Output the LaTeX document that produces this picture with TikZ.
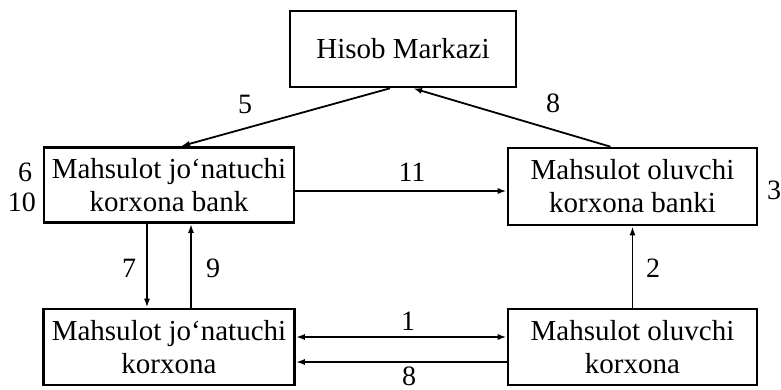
\documentclass[tikz,border=0pt]{standalone}
\usepackage{fontspec}
\setmainfont{Liberation Serif}
\usetikzlibrary{calc,arrows.meta}
\begin{document}
\begin{tikzpicture}[x=1pt,y=-1pt,
  box/.style={draw,line width=2.6pt,align=center,inner sep=0pt,
    font=\fontsize{29}{33}\selectfont},
  arr/.style={line width=1.8pt,-{Latex[length=9pt,width=6pt]}},
  darr/.style={line width=1.8pt,{Latex[length=9pt,width=6pt]}-{Latex[length=9pt,width=6pt]}},
  num/.style={font=\fontsize{28}{30}\selectfont,inner sep=0pt}]
\useasboundingbox (0,0) rectangle (781,390);
\node[box,minimum width=226pt,minimum height=76pt] (hm) at (403,49) {Hisob Markazi};
\node[box,minimum width=250pt,minimum height=75pt] (tl) at (169,185) {Mahsulot jo‘natuchi\\korxona bank};
\node[box,minimum width=249pt,minimum height=77pt] (tr) at (632.5,186.5) {Mahsulot oluvchi\\korxona banki};
\node[box,minimum width=251pt,minimum height=76pt] (bl) at (169,347) {Mahsulot jo‘natuchi\\korxona};
\node[box,minimum width=249pt,minimum height=76pt] (br) at (632.5,347) {Mahsulot oluvchi\\korxona};
% connectors
\draw[arr] ($(hm.south)+(-13,0)$) -- ($(tl.north)+(12,0)$);
\draw[arr] ($(tr.north)+(-22,0)$) -- ($(hm.south)+(10,0)$);
\draw[arr] ($(tl.east)+(0,6)$) -- ($(tr.west)+(0,4.5)$);
\draw[arr] ($(tl.south)+(-22,0)$) -- ($(bl.north)+(-22,0)$);
\draw[arr] ($(bl.north)+(22,0)$) -- ($(tl.south)+(22,0)$);
\draw[arr] (br.north) -- (tr.south);
\draw[darr] ($(bl.east)+(0,-10)$) -- ($(br.west)+(0,-10)$);
\draw[arr] ($(br.west)+(0,15)$) -- ($(bl.east)+(0,15)$);
% labels
\node[num] (n5) at (245,104) {5};
\node[num] (n8a) at (553,103) {8};
\node[num] (n11) at (412,172) {11};
\node[num] (n6) at (25,172) {6};
\node[num] (n10) at (22,202) {10};
\node[num] (n3) at (774,190) {3};
\node[num] (n7) at (129,268) {7};
\node[num] (n9) at (213,268) {9};
\node[num] (n2) at (653,268) {2};
\node[num] (n1) at (408,321) {1};
\node[num] (n8b) at (409,376) {8};
\end{tikzpicture}
\end{document}
